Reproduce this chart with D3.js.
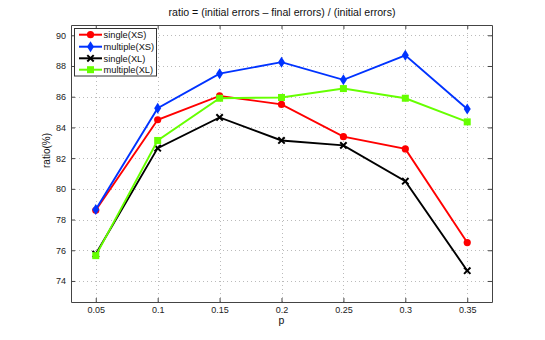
<!DOCTYPE html>
<html>
<head>
<meta charset="utf-8">
<script src="https://cdn.jsdelivr.net/npm/d3@7"></script>
<style>
  body { margin: 0; background: #fff; }
  svg { display: block; font-family: "Liberation Sans", Arial, sans-serif; }
</style>
</head>
<body>
<div id="viz"></div>
<script>
var pValues = [0.05, 0.1, 0.15, 0.2, 0.25, 0.3, 0.35];
var singleXS = [78.6, 84.5, 86.05, 85.5, 83.4, 82.6, 76.5];
var multipleXS = [78.65, 85.25, 87.5, 88.25, 87.1, 88.7, 85.2];
var singleXL = [75.75, 82.65, 84.65, 83.15, 82.83, 80.5, 74.67];
var multipleXL = [75.65, 83.15, 85.9, 85.95, 86.53, 85.9, 84.36];
var xTicks = [0.05, 0.1, 0.15, 0.2, 0.25, 0.3, 0.35];
var yTicks = [74, 76, 78, 80, 82, 84, 86, 88, 90];

var series = [
  {name: "single(XS)", values: singleXS, color: "#ff0000", marker: "circle"},
  {name: "multiple(XS)", values: multipleXS, color: "#0033ff", marker: "diamond"},
  {name: "single(XL)", values: singleXL, color: "#000000", marker: "cross"},
  {name: "multiple(XL)", values: multipleXL, color: "#66ff00", marker: "square"}
];

var width = 545, height = 340;
var m = {left: 71, right: 492, top: 25, bottom: 302};

var svg = d3.select("#viz").append("svg")
  .attr("width", width)
  .attr("height", height);

var x = d3.scaleLinear().domain([0.03, 0.37]).range([m.left, m.right]);
var y = d3.scaleLinear().domain([72.63, 90.67]).range([m.bottom, m.top]);

// grid
var grid = svg.append("g").attr("stroke", "#bbb").attr("stroke-dasharray", "1,3").attr("stroke-width", 1);
grid.selectAll(".gx").data(xTicks).enter().append("line")
  .attr("x1", d => Math.round(x(d)) + 0.5).attr("x2", d => Math.round(x(d)) + 0.5)
  .attr("y1", m.top).attr("y2", m.bottom);
grid.selectAll(".gy").data(yTicks).enter().append("line")
  .attr("y1", d => Math.round(y(d)) + 0.5).attr("y2", d => Math.round(y(d)) + 0.5)
  .attr("x1", m.left).attr("x2", m.right);

// axes
var xAxis = d3.axisBottom(x).tickValues(xTicks).tickSizeInner(-4).tickSizeOuter(0).tickPadding(4.5)
  .tickFormat(d3.format("~g"));
var yAxis = d3.axisLeft(y).tickValues(yTicks).tickSizeInner(-4).tickSizeOuter(0).tickPadding(5);

function styleAxis(g) {
  g.select(".domain").attr("stroke", "#444");
  g.selectAll(".tick line").attr("stroke", "#444");
  g.selectAll("text").attr("fill", "#222").style("font-size", "9px");
}

svg.append("g").attr("transform", "translate(0," + m.bottom + ")").call(xAxis).call(styleAxis);
svg.append("g").attr("transform", "translate(" + m.left + ",0)").call(yAxis).call(styleAxis);
svg.append("g").attr("transform", "translate(0," + m.top + ")")
  .call(d3.axisTop(x).tickValues(xTicks).tickSizeInner(-4).tickSizeOuter(0).tickFormat(""))
  .call(styleAxis);
svg.append("g").attr("transform", "translate(" + m.right + ",0)")
  .call(d3.axisRight(y).tickValues(yTicks).tickSizeInner(-4).tickSizeOuter(0).tickFormat(""))
  .call(styleAxis);

// lines
var line = d3.line().x((d, i) => x(pValues[i])).y(d => y(d));

function drawMarker(g, type, color) {
  if (type == "circle") {
    g.append("circle").attr("r", 3.6).attr("fill", color);
  } else if (type == "diamond") {
    g.append("path").attr("d", "M0,-5.5L3.5,0L0,5.5L-3.5,0Z").attr("fill", color);
  } else if (type == "cross") {
    g.append("path").attr("d", "M-3.2,-3.2L3.2,3.2M-3.2,3.2L3.2,-3.2")
      .attr("stroke", color).attr("stroke-width", 2).attr("fill", "none");
  } else {
    g.append("rect").attr("x", -3.5).attr("y", -3.5).attr("width", 7).attr("height", 7).attr("fill", color);
  }
}

series.forEach(function(s) {
  svg.append("path")
    .attr("d", line(s.values))
    .attr("fill", "none")
    .attr("stroke", s.color)
    .attr("stroke-width", 1.9);
  svg.selectAll(null).data(s.values).enter().append("g")
    .attr("transform", (d, i) => "translate(" + x(pValues[i]) + "," + y(d) + ")")
    .each(function() { drawMarker(d3.select(this), s.marker, s.color); });
});

// legend
var legend = svg.append("g");
legend.append("rect")
  .attr("x", 74.5).attr("y", 28.5).attr("width", 82).attr("height", 47.5)
  .attr("fill", "#fff").attr("stroke", "#333").attr("stroke-width", 1);
var rowY = [34.7, 46.7, 58.3, 69.7];
series.forEach(function(s, i) {
  var row = legend.append("g").attr("transform", "translate(0," + rowY[i] + ")");
  row.append("line").attr("x1", 79).attr("x2", 102).attr("stroke", s.color).attr("stroke-width", 2);
  drawMarker(row.append("g").attr("transform", "translate(90.5,0)"), s.marker, s.color);
  row.append("text").attr("x", 103.5).attr("y", 3.4).text(s.name)
    .style("font-size", "9.3px").attr("fill", "#111");
});

// title and labels
svg.append("text").attr("x", 282).attr("y", 16).attr("text-anchor", "middle")
  .style("font-size", "10.6px").attr("fill", "#111")
  .text("ratio = (initial errors \u2013 final errors) / (initial errors)");
svg.append("text").attr("x", 281.5).attr("y", 324).attr("text-anchor", "middle")
  .style("font-size", "10.5px").attr("fill", "#111").text("p");
svg.append("text").attr("transform", "translate(50,150.5) rotate(-90)").attr("text-anchor", "middle")
  .style("font-size", "10px").attr("fill", "#111").text("ratio(%)");
</script>
</body>
</html>
